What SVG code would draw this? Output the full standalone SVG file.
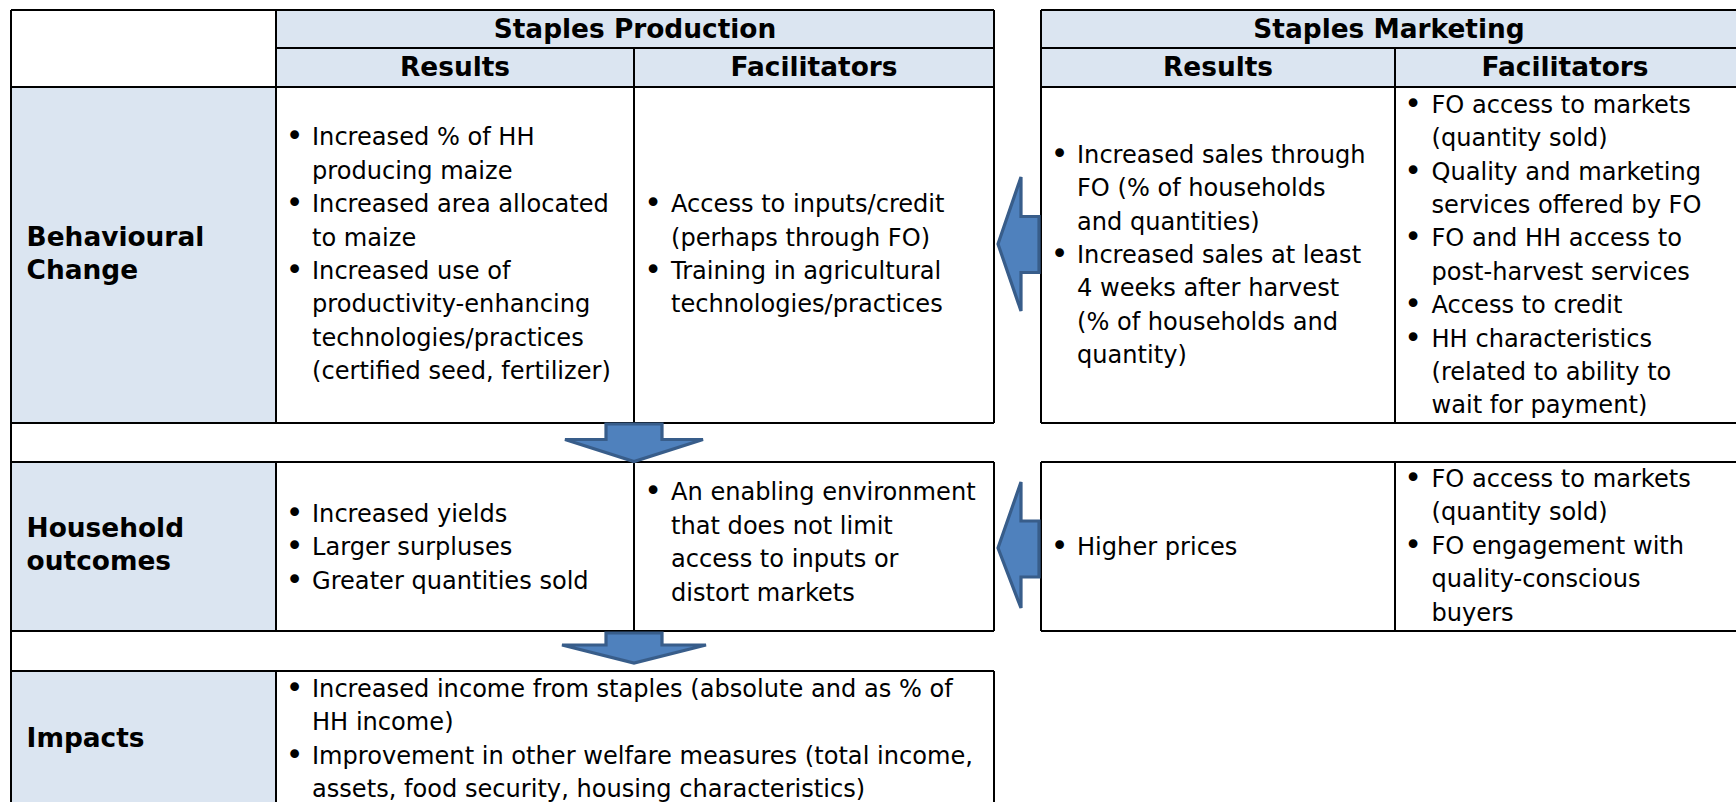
<svg xmlns="http://www.w3.org/2000/svg" width="1736" height="802" viewBox="0 0 1736 802">
<style>
.bg{fill:#ffffff}
.hdr{fill:#dbe5f1}
.ln{stroke:#000;stroke-width:2;fill:none}
.t{font-family:"DejaVu Sans",Verdana,sans-serif;font-size:24.1px;fill:#000}
.bu{font-family:"DejaVu Sans",Verdana,sans-serif;font-size:30px;fill:#000;text-anchor:middle}
.b{font-family:"DejaVu Sans",Verdana,sans-serif;font-weight:bold;font-size:26.4px;fill:#000}
.c{text-anchor:middle}
.arrow{fill:#4f81bd;stroke:#385d8a;stroke-width:3.2;stroke-linejoin:miter}
</style>
<rect x="0" y="0" width="1736" height="802" class="bg"/>

<g id="fills">
<rect x="276" y="10" width="718" height="77" class="hdr"/>
<rect x="1041" y="10" width="696" height="77" class="hdr"/>
<rect x="11" y="87" width="265" height="336" class="hdr"/>
<rect x="11" y="462" width="265" height="169" class="hdr"/>
<rect x="11" y="671" width="265" height="140" class="hdr"/>
</g>

<g id="grid">
<path class="ln" d="M11 10H994 M276 48H994 M11 87H994 M11 423H994 M11 462H994 M11 631H994 M11 671H994
M11 10V810 M276 10V423 M276 462V631 M276 671V810 M634 48V423 M634 462V631 M994 10V423 M994 462V631 M994 671V810"/>
<path class="ln" d="M1041 10H1737 M1041 48H1737 M1041 87H1737 M1041 423H1737 M1041 462H1737 M1041 631H1737
M1041 10V423 M1041 462V631 M1395 48V423 M1395 462V631 M1737 10V631"/>
</g>

<g id="hdr-production">
<text class="b c" x="635" y="37.5">Staples Production</text>
<text class="b c" x="455" y="76">Results</text>
<text class="b c" x="814" y="76">Facilitators</text>
</g>
<g id="hdr-marketing">
<text class="b c" x="1389" y="37.5">Staples Marketing</text>
<text class="b c" x="1218" y="76">Results</text>
<text class="b c" x="1565" y="76">Facilitators</text>
</g>

<g id="label-behavioural">
<text class="b" x="26.6" y="245.6">Behavioural</text>
<text class="b" x="26.6" y="279">Change</text>
</g>
<g id="label-household">
<text class="b" x="26.6" y="536.7">Household</text>
<text class="b" x="26.6" y="570.1">outcomes</text>
</g>
<g id="label-impacts">
<text class="b" x="26.6" y="746.7">Impacts</text>
</g>

<g id="prod-behav-results">
<text class="bu" x="294.5" y="146.4">•</text>
<text class="t" x="312" y="145.4">Increased % of HH</text>
<text class="t" x="312" y="178.8">producing maize</text>
<text class="bu" x="294.5" y="213.2">•</text>
<text class="t" x="312" y="212.2">Increased area allocated</text>
<text class="t" x="312" y="245.6">to maize</text>
<text class="bu" x="294.5" y="280">•</text>
<text class="t" x="312" y="279">Increased use of</text>
<text class="t" x="312" y="312.4">productivity-enhancing</text>
<text class="t" x="312" y="345.8">technologies/practices</text>
<text class="t" x="312" y="379.2">(certified seed, fertilizer)</text>
</g>

<g id="prod-behav-facilitators">
<text class="bu" x="653" y="213.2">•</text>
<text class="t" x="671" y="212.2">Access to inputs/credit</text>
<text class="t" x="671" y="245.6">(perhaps through FO)</text>
<text class="bu" x="653" y="280">•</text>
<text class="t" x="671" y="279">Training in agricultural</text>
<text class="t" x="671" y="312.4">technologies/practices</text>
</g>

<g id="mkt-behav-results">
<text class="bu" x="1059.5" y="163.7">•</text>
<text class="t" x="1077" y="162.7">Increased sales through</text>
<text class="t" x="1077" y="196.1">FO (% of households</text>
<text class="t" x="1077" y="229.5">and quantities)</text>
<text class="bu" x="1059.5" y="263.9">•</text>
<text class="t" x="1077" y="262.9">Increased sales at least</text>
<text class="t" x="1077" y="296.3">4 weeks after harvest</text>
<text class="t" x="1077" y="329.7">(% of households and</text>
<text class="t" x="1077" y="363.1">quantity)</text>
</g>

<g id="mkt-behav-facilitators">
<text class="bu" x="1413" y="113.7">•</text>
<text class="t" x="1431.5" y="112.7">FO access to markets</text>
<text class="t" x="1431.5" y="146.1">(quantity sold)</text>
<text class="bu" x="1413" y="180.5">•</text>
<text class="t" x="1431.5" y="179.5">Quality and marketing</text>
<text class="t" x="1431.5" y="212.9">services offered by FO</text>
<text class="bu" x="1413" y="247.3">•</text>
<text class="t" x="1431.5" y="246.3">FO and HH access to</text>
<text class="t" x="1431.5" y="279.7">post-harvest services</text>
<text class="bu" x="1413" y="314.1">•</text>
<text class="t" x="1431.5" y="313.1">Access to credit</text>
<text class="bu" x="1413" y="347.5">•</text>
<text class="t" x="1431.5" y="346.5">HH characteristics</text>
<text class="t" x="1431.5" y="379.9">(related to ability to</text>
<text class="t" x="1431.5" y="413.3">wait for payment)</text>
</g>

<g id="prod-house-results">
<text class="bu" x="294.5" y="523">•</text>
<text class="t" x="312" y="522">Increased yields</text>
<text class="bu" x="294.5" y="556.4">•</text>
<text class="t" x="312" y="555.4">Larger surpluses</text>
<text class="bu" x="294.5" y="589.8">•</text>
<text class="t" x="312" y="588.8">Greater quantities sold</text>
</g>

<g id="prod-house-facilitators">
<text class="bu" x="653" y="501.4">•</text>
<text class="t" x="671" y="500.4">An enabling environment</text>
<text class="t" x="671" y="533.8">that does not limit</text>
<text class="t" x="671" y="567.2">access to inputs or</text>
<text class="t" x="671" y="600.6">distort markets</text>
</g>

<g id="mkt-house-results">
<text class="bu" x="1059.5" y="555.7">•</text>
<text class="t" x="1077" y="554.7">Higher prices</text>
</g>

<g id="mkt-house-facilitators">
<text class="bu" x="1413" y="488">•</text>
<text class="t" x="1431.5" y="487">FO access to markets</text>
<text class="t" x="1431.5" y="520.4">(quantity sold)</text>
<text class="bu" x="1413" y="554.8">•</text>
<text class="t" x="1431.5" y="553.8">FO engagement with</text>
<text class="t" x="1431.5" y="587.2">quality-conscious</text>
<text class="t" x="1431.5" y="620.6">buyers</text>
</g>

<g id="impacts">
<text class="bu" x="294.5" y="698">•</text>
<text class="t" x="312" y="697">Increased income from staples (absolute and as % of</text>
<text class="t" x="312" y="730.4">HH income)</text>
<text class="bu" x="294.5" y="764.8">•</text>
<text class="t" x="312" y="763.8">Improvement in other welfare measures (total income,</text>
<text class="t" x="312" y="797.2">assets, food security, housing characteristics)</text>
</g>

<g id="connectors">
<path class="arrow" d="M606 424H662V439.5H703L634 461.5L565 439.5H606Z"/>
<path class="arrow" d="M606 633H662V645H706L634 663L562 645H606Z"/>
<path class="arrow" d="M1039 216.5V272.5H1021V311L998 244L1021 177V216.5Z"/>
<path class="arrow" d="M1039 521V577H1021V608L998 548L1021 482V521Z"/>
</g>
</svg>
